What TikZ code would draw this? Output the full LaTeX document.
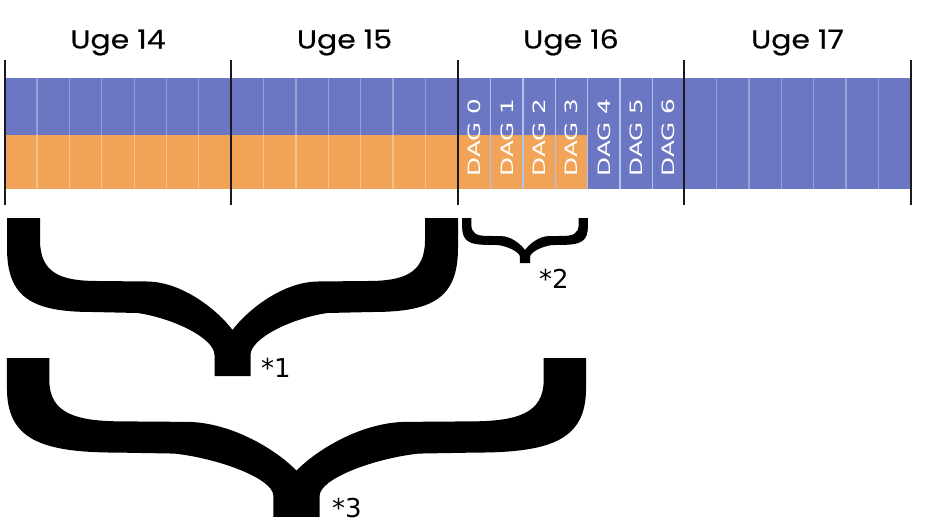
\documentclass[tikz,border=0pt]{standalone}
\usepackage{graphicx}
\usepackage{fontspec}
\setmainfont{DejaVu Sans}
\newfontfamily\ugefont[FakeBold=0.4]{Poppins}
\definecolor{barblue}{RGB}{108,119,196}
\definecolor{barorange}{RGB}{241,163,88}
\definecolor{sepsixteen}{RGB}{175,195,240}
\definecolor{weekblack}{RGB}{25,25,30}
\newcommand\DrawFatBrace[1]{%
  \begin{scope}[#1]
    \fill[black] (-225.5,0) -- (-192.5,0) -- (-192.5,22)
      .. controls (-192.5,55) and (-172,63) .. (-135,63) -- (-85,63.5)
      .. controls (-50,64) and (-15,92) .. (0,112)
      .. controls (15,92) and (50,64) .. (85,63.5) -- (135,63)
      .. controls (172,63) and (192.5,55) .. (192.5,22) -- (192.5,0)
      -- (225.5,0) -- (225.5,30)
      .. controls (225.5,80) and (200,94) .. (140,94) -- (95,95)
      .. controls (60,100) and (18,120) .. (18,137) -- (18,158)
      -- (-18,158) -- (-18,137)
      .. controls (-18,120) and (-60,100) .. (-95,95) -- (-140,94)
      .. controls (-200,94) and (-225.5,80) .. (-225.5,30) -- cycle;
  \end{scope}}
\tikzset{
  weeklabel/.style={font=\ugefont\fontsize{26}{26}\selectfont, inner sep=0pt, anchor=base},
  daylabel/.style={text=white, inner sep=0pt, rotate=90, font=\fontsize{17}{17}\selectfont},
  starlabel/.style={font=\fontsize{26}{26}\selectfont, inner sep=0pt, anchor=base west},
  weekline/.style={line width=1.8pt, draw=weekblack},
  sepline/.style={line width=1.2pt, draw=white, draw opacity=0.3},
  sepstrong/.style={line width=1.3pt, draw=sepsixteen},
}
\begin{document}
\begin{tikzpicture}[x=1pt,y=-1pt]
\fill[white] (0,0) rectangle (931,522);
\useasboundingbox (0,0) rectangle (931,522);
% bars
\fill[barblue] (4.7,77.7) rectangle (910.7,189.3);
\fill[barorange] (4.7,135) rectangle (587.7,189.3);
% day separators
\foreach \w in {0,1,3}
  \foreach \d in {1,...,6}
    \draw[sepline] ({4.7+\w*226.5+\d*32.36},77.7) -- ({4.7+\w*226.5+\d*32.36},189.3);
\foreach \d in {1,...,6}
  \draw[sepstrong] ({458.3+\d*32.36},77.7) -- ({458.3+\d*32.36},189.3);
% week lines
\foreach \w in {0,...,4}
  \draw[weekline] ({4.7+\w*226.5},60) -- ({4.7+\w*226.5},205);
% week labels
\foreach \w/\n in {0/14,1/15,2/16,3/17}
  \node[weeklabel] (uge\n) at ({117.95+\w*226.5},48.5) {\scalebox{1.15}[1]{Uge \n}};
% day labels
\foreach \i in {0,...,6}
  \node[daylabel] (dag\i) at ({458.3+(\i+0.5)*32.36},137.5) {\scalebox{1.45}[1]{DAG \i}};
% braces
\DrawFatBrace{shift={(232.5,218)}}
\DrawFatBrace{shift={(525,218)}, xscale=0.279, yscale=0.285}
\DrawFatBrace{shift={(296.5,358)}, xscale=1.284, yscale=1.006}
% star labels
\node[starlabel] (star1) at (261,377) {*1};
\node[starlabel] (star2) at (539,288) {*2};
\node[starlabel] (star3) at (332,517) {*3};
\end{tikzpicture}
\end{document}
